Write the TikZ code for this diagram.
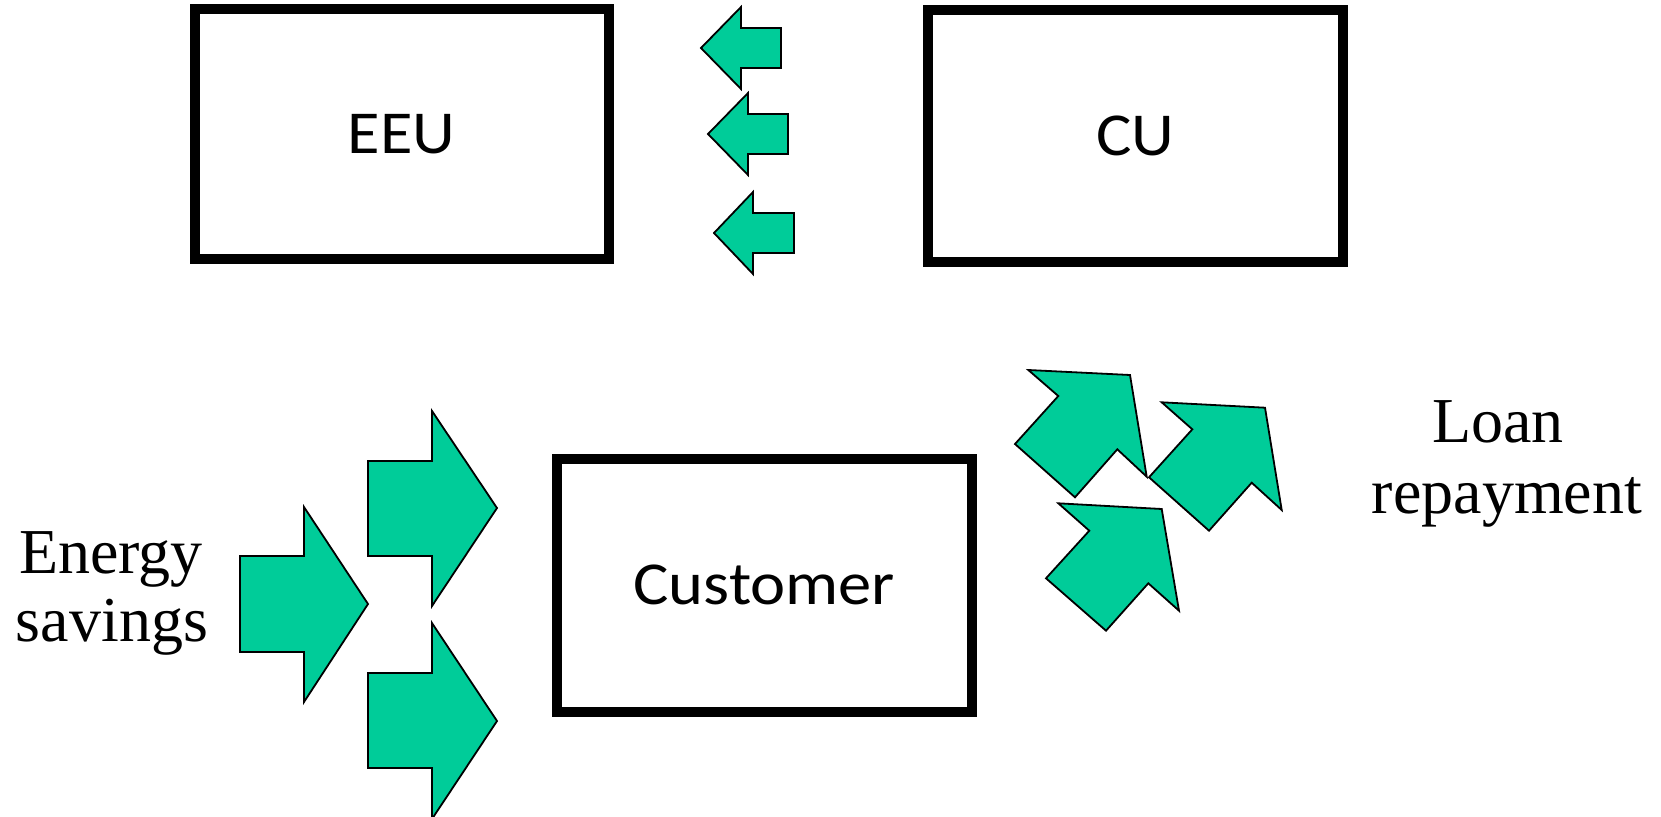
\documentclass[tikz,border=0pt]{standalone}
\usepackage{fontspec}
\newfontfamily\boxfont[FakeStretch=1.09]{Carlito}
\newfontfamily\labfont{Liberation Serif}
\definecolor{arrowgreen}{RGB}{0,204,153}
\begin{document}
\begin{tikzpicture}[x=1pt,y=-1pt,
  unitbox/.style={draw=black,line width=10pt,fill=white,inner sep=0pt,
    font=\boxfont\fontsize{61}{72}\selectfont},
  blockarrow/.style={draw=black,line width=1.8pt,fill=arrowgreen,line join=miter},
  labeltext/.style={inner sep=0pt,anchor=base,font=\labfont\fontsize{64}{72}\selectfont}]
\useasboundingbox[fill=white] (0,0) rectangle (1661,816);
% boxes
\node[unitbox,minimum width=413.5pt,minimum height=250pt] (eeu) at (401.75,134) {EEU};
\node[unitbox,minimum width=415pt,minimum height=252pt] (cu) at (1135.5,136) {CU};
\node[unitbox,minimum width=414.5pt,minimum height=253.5pt] (cust) at (764.25,585.25) {Customer};
% small left arrows between CU and EEU
\draw[blockarrow] (701,48) -- (741,7) -- (741,28) -- (781,28) -- (781,68) -- (741,68) -- (741,89) -- cycle;
\draw[blockarrow] (708,134) -- (748,93) -- (748,114) -- (788,114) -- (788,154) -- (748,154) -- (748,175) -- cycle;
\draw[blockarrow] (714,233) -- (753,192) -- (753,213) -- (794,213) -- (794,253) -- (753,253) -- (753,274) -- cycle;
% big right arrows (energy savings)
\draw[blockarrow] (368,604) -- (304,507) -- (304,556) -- (240,556) -- (240,652) -- (304,652) -- (304,702) -- cycle;
\draw[blockarrow] (497,508) -- (432,411) -- (432,461) -- (368,461) -- (368,556) -- (432,556) -- (432,606) -- cycle;
\draw[blockarrow] (497,721) -- (432,623) -- (432,673) -- (368,673) -- (368,768) -- (432,768) -- (432,819) -- cycle;
% diagonal arrows (loan repayment)
\draw[blockarrow] (1130,375) -- (1028.3,370) -- (1058.3,396) -- (1015,444) -- (1075,497.3) -- (1117.3,449.3) -- (1146.7,476.7) -- cycle;
\draw[blockarrow] (1265,407.7) -- (1161.7,402.3) -- (1192.3,429.3) -- (1149,477.3) -- (1209,530.7) -- (1251.7,482.7) -- (1281.7,510) -- cycle;
\draw[blockarrow] (1161.7,509) -- (1058.3,503.3) -- (1089.3,530.7) -- (1046,578.3) -- (1106,630.7) -- (1148.3,583.3) -- (1179,610.7) -- cycle;
% labels
\node[labeltext] (energy) at (111,573) {Energy};
\node[labeltext] (savings) at (112,641) {savings};
\node[labeltext] (loan) at (1498,442) {Loan};
\node[labeltext] (repay) at (1507,513) {repayment};
\end{tikzpicture}
\end{document}
